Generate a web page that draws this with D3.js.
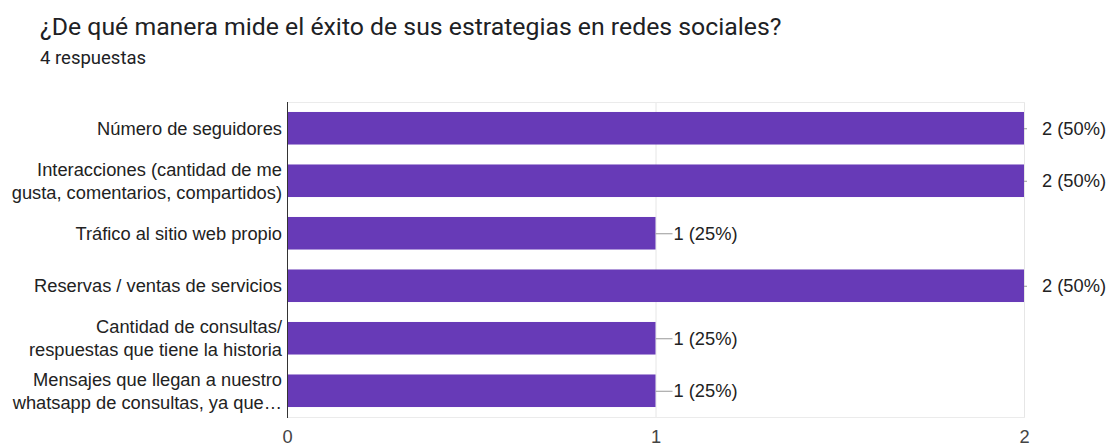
<!DOCTYPE html>
<html>
<head>
<meta charset="utf-8">
<script src="https://cdn.jsdelivr.net/npm/d3@7"></script>
<style>
  html, body { margin: 0; padding: 0; background: #fff; }
  svg { display: block; }
</style>
</head>
<body>
<svg id="chart" width="1110" height="446"></svg>
<script>
// Survey answers: each category may span two lines on the axis
const categories = [
  ["Número de seguidores"],
  ["Interacciones (cantidad de me", "gusta, comentarios, compartidos)"],
  ["Tráfico al sitio web propio"],
  ["Reservas / ventas de servicios"],
  ["Cantidad de consultas/", "respuestas que tiene la historia"],
  ["Mensajes que llegan a nuestro", "whatsapp de consultas, ya que…"]
];
const counts = [2, 2, 1, 2, 1, 1];
const percents = [50, 50, 25, 50, 25, 25];
const xTicks = [0, 1, 2];
const title = "¿De qué manera mide el éxito de sus estrategias en redes sociales?";
const subtitle = "4 respuestas";

const svg = d3.select("#chart");
const plot = { left: 287, right: 1024, top: 102, bottom: 417 };
const barColor = "#673ab7";
const labelFont = "Arial, 'Liberation Sans', sans-serif";
const labelSize = 18.3;

svg.append("text")
  .attr("x", 40).attr("y", 35)
  .attr("font-family", "Roboto, sans-serif")
  .attr("font-size", 24.8)
  .attr("fill", "#202124")
  .text(title);

svg.append("text")
  .attr("x", 40).attr("y", 64)
  .attr("font-family", "Roboto, sans-serif")
  .attr("font-size", 18.5)
  .attr("fill", "#202124")
  .text(subtitle);

const x = d3.scaleLinear().domain([0, 2]).range([plot.left, plot.right]);
const y = d3.scaleBand()
  .domain(d3.range(categories.length))
  .range([plot.top, plot.bottom])
  .paddingInner(0.38)
  .paddingOuter(0.19);

// Vertical gridlines
svg.append("g")
  .selectAll("line")
  .data(xTicks.filter(t => t > 0))
  .join("line")
  .attr("x1", d => x(d) + 0.5).attr("x2", d => x(d) + 0.5)
  .attr("y1", plot.top).attr("y2", plot.bottom)
  .attr("stroke", "#e6e6e6").attr("stroke-width", 1);

// Top and bottom frame lines of the plot area
svg.append("g")
  .selectAll("line")
  .data([plot.top, plot.bottom])
  .join("line")
  .attr("x1", plot.left).attr("x2", plot.right + 1)
  .attr("y1", d => d + 0.5).attr("y2", d => d + 0.5)
  .attr("stroke", "#ebebeb").attr("stroke-width", 1);

// Bars
svg.append("g")
  .selectAll("rect")
  .data(counts)
  .join("rect")
  .attr("x", x(0))
  .attr("y", (d, i) => y(i))
  .attr("width", d => x(d) - x(0))
  .attr("height", y.bandwidth())
  .attr("fill", barColor);

// Leader lines from bar ends to the value labels (clipped to the plot edge)
svg.append("clipPath").attr("id", "leaderClip")
  .append("rect")
  .attr("x", plot.left).attr("y", plot.top)
  .attr("width", plot.right - plot.left + 3)
  .attr("height", plot.bottom - plot.top);

svg.append("g")
  .attr("clip-path", "url(#leaderClip)")
  .selectAll("line")
  .data(counts)
  .join("line")
  .attr("x1", d => x(d)).attr("x2", d => x(d) + 17)
  .attr("y1", (d, i) => y(i) + y.bandwidth() / 2 + 0.5)
  .attr("y2", (d, i) => y(i) + y.bandwidth() / 2 + 0.5)
  .attr("stroke", "#999").attr("stroke-width", 1);

// Value labels
svg.append("g")
  .selectAll("text")
  .data(counts)
  .join("text")
  .attr("x", d => x(d) + 18)
  .attr("y", (d, i) => y(i) + y.bandwidth() / 2)
  .attr("dy", "0.35em")
  .attr("font-family", labelFont)
  .attr("font-size", labelSize)
  .attr("fill", "#222")
  .text((d, i) => `${d} (${percents[i]}%)`);

// Category labels
const catG = svg.append("g")
  .selectAll("text")
  .data(categories)
  .join("text")
  .attr("text-anchor", "end")
  .attr("font-family", labelFont)
  .attr("font-size", labelSize)
  .attr("fill", "#222");

catG.each(function (lines, i) {
  const cy = y(i) + y.bandwidth() / 2;
  const lh = 23;
  const start = cy - (lines.length - 1) * lh / 2;
  d3.select(this).selectAll("tspan")
    .data(lines)
    .join("tspan")
    .attr("x", plot.left - 5)
    .attr("y", (l, j) => start + j * lh)
    .attr("dy", "0.35em")
    .text(l => l);
});

// Y axis line
svg.append("line")
  .attr("x1", plot.left + 0.5).attr("x2", plot.left + 0.5)
  .attr("y1", plot.top).attr("y2", plot.bottom + 1)
  .attr("stroke", "#333").attr("stroke-width", 1);

// X tick labels
const xAxis = d3.axisBottom(x).tickValues(xTicks).tickSize(0).tickPadding(0).tickFormat(d3.format("d"));
const xg = svg.append("g")
  .attr("transform", `translate(0, ${plot.bottom})`)
  .call(xAxis);
xg.select(".domain").remove();
xg.selectAll("text")
  .attr("y", 26)
  .attr("dy", 0)
  .attr("font-family", labelFont)
  .attr("font-size", labelSize)
  .attr("fill", "#444");
</script>
</body>
</html>
